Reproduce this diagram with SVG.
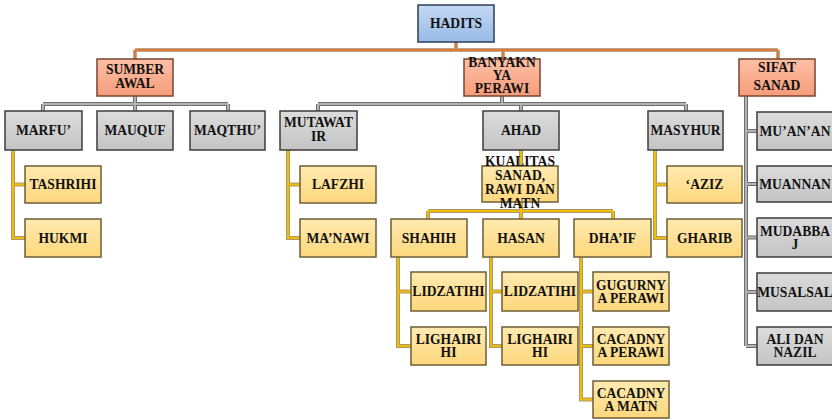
<svg xmlns="http://www.w3.org/2000/svg" xmlns:xlink="http://www.w3.org/1999/xlink" width="832" height="420" viewBox="0 0 832 420">
<style>
text{font-family:"Liberation Serif","Times New Roman",serif;font-weight:bold;font-size:13.6px;fill:#111;text-anchor:middle}
.blue{fill:url(#gBlue);stroke:#2f3f55;stroke-width:1.5}
.org{fill:url(#gOrg);stroke:#7a4430;stroke-width:1.5}
.gray{fill:url(#gGray);stroke:#3c3c3c;stroke-width:1.5}
.yel{fill:url(#gYel);stroke:#6e5e36;stroke-width:1.5}
.o1{fill:none;stroke:#b8a79a;stroke-width:4}
.o2{fill:none;stroke:#e07a2c;stroke-width:2}
.g1{fill:none;stroke:#6e6e6e;stroke-width:4}
.g2{fill:none;stroke:#b4b4b4;stroke-width:2}
.y1{fill:none;stroke:#a89a70;stroke-width:4}
.y2{fill:none;stroke:#f2bd00;stroke-width:2}
</style>
<defs>
<linearGradient id="gBlue" x1="0" y1="0" x2="0" y2="1"><stop offset="0" stop-color="#c3d8f2"/><stop offset="1" stop-color="#98bbe8"/></linearGradient>
<linearGradient id="gOrg" x1="0" y1="0" x2="0" y2="1"><stop offset="0" stop-color="#fcc0a6"/><stop offset="1" stop-color="#f69c7a"/></linearGradient>
<linearGradient id="gGray" x1="0" y1="0" x2="0" y2="1"><stop offset="0" stop-color="#dcdcdc"/><stop offset="1" stop-color="#c4c4c4"/></linearGradient>
<linearGradient id="gYel" x1="0" y1="0" x2="0" y2="1"><stop offset="0" stop-color="#ffeab0"/><stop offset="1" stop-color="#fdd77c"/></linearGradient>
<path id="cTop" d="M456 42V50M135 50H778M135 50V59M503 50V59M778 50V59"/>
<path id="cSum" d="M135 96V104M43 104H228M43 104V111M135 104V111M228 104V111"/>
<path id="cBan" d="M502 96V104M318 104H686M318 104V111M521 104V111M686 104V111"/>
<path id="cSif" d="M746 96V346M746 131H757M746 184H757M746 237.5H757M746 292H757M746 346H757"/>
<path id="cMar" d="M13 150V238H25M13 184.5H25"/>
<path id="cMut" d="M288 150V238H300M288 184.5H300"/>
<path id="cAha" d="M521 150V166M521 202V211M428 211H613M428 211V219M521 211V219M613 211V219"/>
<path id="cSha" d="M398 257V346H411M398 291.5H411"/>
<path id="cHas" d="M491 257V346H502M491 291.5H502"/>
<path id="cDha" d="M581 257V399.5H593M581 291.5H593M581 346H593"/>
<path id="cMas" d="M655 150V238H667M655 184.5H667"/>
</defs>
<g id="connectors">
<use xlink:href="#cTop" href="#cTop" class="o1"/><use xlink:href="#cTop" href="#cTop" class="o2"/>
<use xlink:href="#cSum" href="#cSum" class="g1"/><use xlink:href="#cSum" href="#cSum" class="g2"/>
<use xlink:href="#cBan" href="#cBan" class="g1"/><use xlink:href="#cBan" href="#cBan" class="g2"/>
<use xlink:href="#cSif" href="#cSif" class="g1"/><use xlink:href="#cSif" href="#cSif" class="g2"/>
<use xlink:href="#cMar" href="#cMar" class="y1"/><use xlink:href="#cMar" href="#cMar" class="y2"/>
<use xlink:href="#cMut" href="#cMut" class="y1"/><use xlink:href="#cMut" href="#cMut" class="y2"/>
<use xlink:href="#cAha" href="#cAha" class="y1"/><use xlink:href="#cAha" href="#cAha" class="y2"/>
<use xlink:href="#cSha" href="#cSha" class="y1"/><use xlink:href="#cSha" href="#cSha" class="y2"/>
<use xlink:href="#cHas" href="#cHas" class="y1"/><use xlink:href="#cHas" href="#cHas" class="y2"/>
<use xlink:href="#cDha" href="#cDha" class="y1"/><use xlink:href="#cDha" href="#cDha" class="y2"/>
<use xlink:href="#cMas" href="#cMas" class="y1"/><use xlink:href="#cMas" href="#cMas" class="y2"/>
</g>
<g id="hadits"><rect class="blue" x="418" y="5" width="76" height="37"/><text x="456" y="28">HADITS</text></g>
<g id="sumber"><rect class="org" x="97" y="59" width="76" height="37"/><text x="135" y="74">SUMBER</text><text x="135" y="88">AWAL</text></g>
<g id="banyak"><rect class="org" x="464" y="59" width="76" height="37"/><text x="502" y="67">BANYAKN</text><text x="502" y="80">YA</text><text x="502" y="93">PERAWI</text></g>
<g id="sifat"><rect class="org" x="739" y="59" width="76" height="37"/><text x="777" y="72">SIFAT</text><text x="777" y="90">SANAD</text></g>
<g id="marfu"><rect class="gray" x="5" y="111" width="77" height="39"/><text x="43.5" y="135">MARFU’</text></g>
<g id="mauquf"><rect class="gray" x="97" y="111" width="76" height="39"/><text x="135" y="135">MAUQUF</text></g>
<g id="maqthu"><rect class="gray" x="190" y="111" width="75" height="39"/><text x="227.5" y="135">MAQTHU’</text></g>
<g id="mutawatir"><rect class="gray" x="280" y="111" width="77" height="39"/><text x="318.5" y="127">MUTAWAT</text><text x="318.5" y="141">IR</text></g>
<g id="ahad"><rect class="gray" x="483" y="111" width="76" height="39"/><text x="521" y="135">AHAD</text></g>
<g id="masyhur"><rect class="gray" x="648" y="111" width="75" height="39"/><text x="685.5" y="135">MASYHUR</text></g>
<g id="tashrihi"><rect class="yel" x="25" y="166" width="76" height="37"/><text x="63" y="189">TASHRIHI</text></g>
<g id="hukmi"><rect class="yel" x="25" y="219" width="76" height="38"/><text x="63" y="242.5">HUKMI</text></g>
<g id="lafzhi"><rect class="yel" x="300" y="166" width="76" height="37"/><text x="338" y="189">LAFZHI</text></g>
<g id="manawi"><rect class="yel" x="300" y="219" width="76" height="38"/><text x="338" y="242.5">MA’NAWI</text></g>
<g id="kualitas"><rect class="yel" x="482" y="166" width="76" height="36"/><text x="520" y="166">KUALITAS</text><text x="520" y="180">SANAD,</text><text x="520" y="194">RAWI DAN</text><text x="520" y="208">MATN</text></g>
<g id="shahih"><rect class="yel" x="391" y="219" width="76" height="38"/><text x="429" y="242.5">SHAHIH</text></g>
<g id="hasan"><rect class="yel" x="483" y="219" width="76" height="38"/><text x="521" y="242.5">HASAN</text></g>
<g id="dhaif"><rect class="yel" x="574" y="219" width="77" height="38"/><text x="612.5" y="242.5">DHA’IF</text></g>
<g id="aziz"><rect class="yel" x="667" y="166" width="75" height="37"/><text x="704.5" y="189">‘AZIZ</text></g>
<g id="gharib"><rect class="yel" x="667" y="219" width="75" height="38"/><text x="704.5" y="242.5">GHARIB</text></g>
<g id="lidzatihi1"><rect class="yel" x="411" y="272" width="75" height="39"/><text x="448.5" y="296">LIDZATIHI</text></g>
<g id="lighairihi1"><rect class="yel" x="411" y="327" width="75" height="38"/><text x="448.5" y="344">LIGHAIRI</text><text x="448.5" y="357">HI</text></g>
<g id="lidzatihi2"><rect class="yel" x="502" y="272" width="76" height="39"/><text x="540" y="296">LIDZATIHI</text></g>
<g id="lighairihi2"><rect class="yel" x="502" y="327" width="76" height="38"/><text x="540" y="344">LIGHAIRI</text><text x="540" y="357">HI</text></g>
<g id="gugurnya"><rect class="yel" x="593" y="272" width="76" height="39"/><text x="631" y="289.5">GUGURNY</text><text x="631" y="302.5">A PERAWI</text></g>
<g id="cacadperawi"><rect class="yel" x="593" y="327" width="76" height="38"/><text x="631" y="344">CACADNY</text><text x="631" y="357">A PERAWI</text></g>
<g id="cacadmatn"><rect class="yel" x="593" y="381" width="76" height="37"/><text x="631" y="397.5">CACADNY</text><text x="631" y="410.5">A MATN</text></g>
<g id="muanan"><rect class="gray" x="757" y="112" width="76" height="38"/><text x="795" y="135.5">MU’AN’AN</text></g>
<g id="muannan"><rect class="gray" x="757" y="166" width="76" height="36"/><text x="795" y="188.5">MUANNAN</text></g>
<g id="mudabbaj"><rect class="gray" x="757" y="218" width="76" height="39"/><text x="795" y="235.5">MUDABBA</text><text x="795" y="248.5">J</text></g>
<g id="musalsal"><rect class="gray" x="757" y="273" width="76" height="38"/><text x="795" y="296.5">MUSALSAL</text></g>
<g id="alidannazil"><rect class="gray" x="757" y="327" width="76" height="38"/><text x="795" y="344">ALI DAN</text><text x="795" y="357">NAZIL</text></g>
</svg>
